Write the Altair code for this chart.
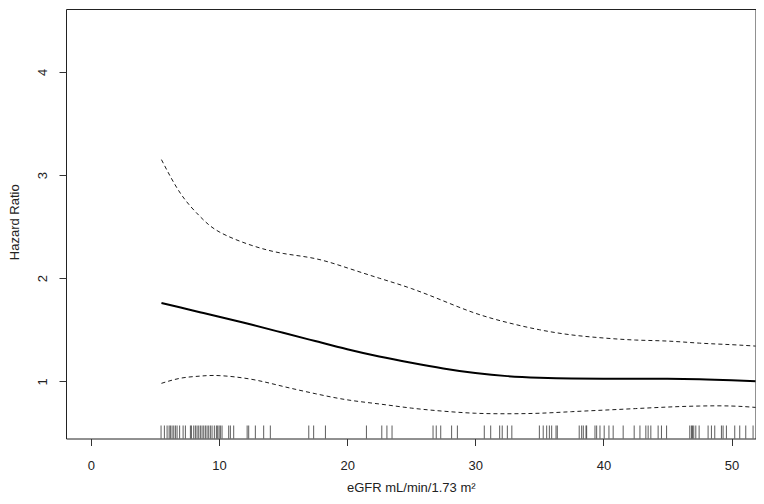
import altair as alt
import pandas as pd

# Curve grid (eGFR) and read-off hazard ratios
egfr = [5.5, 7, 8.5, 10, 12.5, 15, 17.5, 20, 22.5, 25, 27.5, 30, 32.5, 35, 37.5, 40, 42.5, 45, 47.5, 50, 52.04]
hr = [1.76, 1.715, 1.67, 1.625, 1.55, 1.47, 1.39, 1.31, 1.24, 1.18, 1.125, 1.08, 1.05, 1.035, 1.027, 1.025, 1.025, 1.025, 1.02, 1.01, 1.0]
upper = [3.15, 2.82, 2.60, 2.45, 2.32, 2.24, 2.19, 2.10, 2.00, 1.90, 1.78, 1.66, 1.57, 1.50, 1.45, 1.42, 1.40, 1.39, 1.37, 1.355, 1.34]
lower = [0.98, 1.03, 1.05, 1.055, 1.02, 0.95, 0.88, 0.82, 0.78, 0.74, 0.71, 0.69, 0.685, 0.69, 0.705, 0.72, 0.735, 0.75, 0.76, 0.76, 0.745]

# Rug (observed eGFR values)
rug = [5.47, 5.73, 5.94, 6.10, 6.2, 6.33, 6.46, 6.59, 6.72, 6.92, 7.19, 7.37, 7.76, 7.84, 8.02,
       8.15, 8.28, 8.41, 8.54, 8.67, 8.8, 8.93, 9.06, 9.19, 9.32, 9.45, 9.63, 9.79, 9.89, 10.0,
       10.1, 10.23, 10.75, 10.88, 11.14, 12.19, 12.31, 12.83, 13.48, 14.0, 17.0, 17.38, 18.3,
       21.5, 22.7, 23.1, 23.5, 26.7, 26.95, 27.3, 28.15, 28.6, 30.7, 31.2, 31.9, 32.1, 32.5,
       32.85, 35.0, 35.3, 35.57, 35.78, 35.96, 36.30, 36.4, 38.11, 38.30, 38.43, 38.64, 38.69,
       39.34, 39.47, 39.73, 40.06, 40.43, 40.76, 41.54, 42.40, 42.85, 43.31, 43.49, 43.70,
       44.27, 44.53, 44.93, 46.74, 46.87, 46.95, 47.05, 47.21, 47.47, 48.17, 48.43, 48.69,
       49.21, 49.34, 49.60, 50.25, 50.64, 51.11, 51.68]

x_ticks = [0, 10, 20, 30, 40, 50]
y_ticks = [1, 2, 3, 4]

W = 689.5
H = 429.5
FONT = "Liberation Sans"

df = pd.DataFrame({"egfr": egfr, "hr": hr, "upper": upper, "lower": lower})
rug_df = pd.DataFrame({"egfr": rug})

xscale = alt.Scale(domain=[-1.95, 51.87], nice=False, zero=False)
yscale = alt.Scale(domain=[0.445, 4.611], nice=False, zero=False)

xaxis = alt.Axis(values=x_ticks, title="eGFR mL/min/1.73 m²", grid=False, domain=False,
                 format="d",
                 tickSize=7, tickColor="#333", labelPadding=20, labelBaseline="middle",
                 labelFontSize=13, labelColor="#222", labelFont=FONT,
                 titleFont=FONT, titleFontSize=13, titleFontWeight="normal", titleColor="#222",
                 titleY=48.5, titleBaseline="middle")
yaxis = alt.Axis(values=y_ticks, title="Hazard Ratio", grid=False, domain=False,
                 format="d",
                 tickSize=7, tickColor="#333", labelAngle=270, labelAlign="center",
                 labelBaseline="middle", labelPadding=17,
                 labelFontSize=13, labelColor="#222", labelFont=FONT,
                 titleFont=FONT, titleFontSize=13, titleFontWeight="normal", titleColor="#222",
                 titleX=-52, titleY=H * 0.5 - 2, titleAngle=270, titleAlign="center",
                 titleBaseline="middle")

base = alt.Chart(df)

main = base.mark_line(color="black", strokeWidth=2, interpolate="natural", clip=True).encode(
    x=alt.X("egfr:Q", scale=xscale, axis=xaxis),
    y=alt.Y("hr:Q", scale=yscale, axis=yaxis),
)
up = base.mark_line(color="black", strokeWidth=0.9, strokeDash=[4, 3], interpolate="natural", clip=True).encode(
    x=alt.X("egfr:Q", scale=xscale),
    y=alt.Y("upper:Q", scale=yscale),
)
lo = base.mark_line(color="black", strokeWidth=0.9, strokeDash=[4, 3], interpolate="natural", clip=True).encode(
    x=alt.X("egfr:Q", scale=xscale),
    y=alt.Y("lower:Q", scale=yscale),
)
rugs = alt.Chart(rug_df).mark_rule(color="#333", strokeWidth=0.8).encode(
    x=alt.X("egfr:Q", scale=xscale),
    y=alt.value(H - 13),
    y2=alt.value(H),
)

chart = alt.layer(rugs, lo, up, main).properties(
    width=W, height=H,
    autosize=alt.AutoSizeParams(type="none"),
    padding={"left": 58, "top": 1, "right": 0.5, "bottom": 57},
    background="white",
).configure_view(stroke="#222", strokeWidth=1)

chart.save("out.html", embed_options={"renderer": "svg", "actions": False})
